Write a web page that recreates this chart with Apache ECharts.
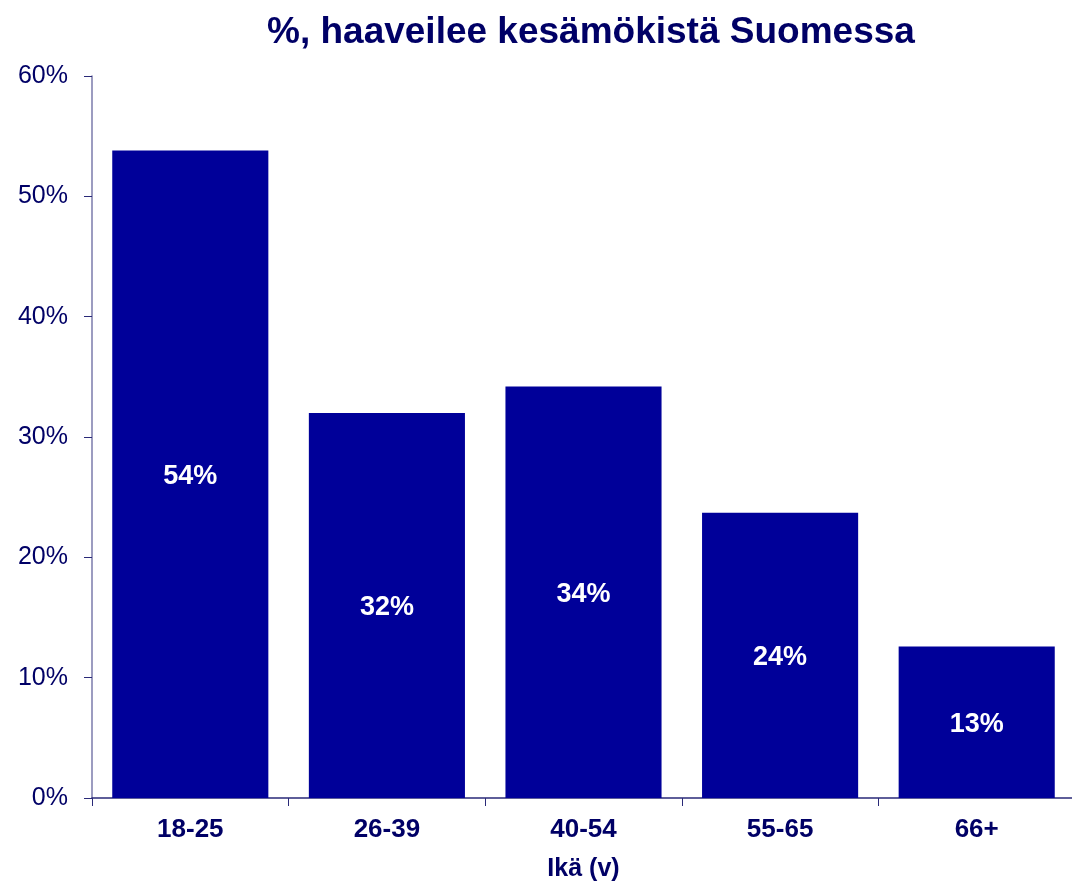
<!DOCTYPE html>
<html>
<head>
<meta charset="utf-8">
<script src="https://cdn.jsdelivr.net/npm/echarts@6/dist/echarts.min.js"></script>
<style>
  html, body { margin: 0; padding: 0; background: #fff; }
  #chart { width: 1072px; height: 881px; }
</style>
</head>
<body>
<div id="chart"></div>
<script>
// ikäryhmät ja osuudet (%)
var ageGroups = ['18-25', '26-39', '40-54', '55-65', '66+'];
var shares = [53.8, 32.0, 34.2, 23.7, 12.6];
var shareLabels = ['54%', '32%', '34%', '24%', '13%'];
var yTicks = [0, 10, 20, 30, 40, 50, 60];

var navy = '#000066';
var font = 'Liberation Sans, Arial, sans-serif';

var myChart = echarts.init(document.getElementById('chart'));
var option = {
  animation: false,
  title: {
    text: '%, haaveilee kesämökistä Suomessa',
    left: 262,
    top: 9,
    textStyle: {
      color: navy,
      fontSize: 37,
      fontWeight: 'bold',
      fontFamily: font
    }
  },
  grid: {
    left: 92,
    right: -3,
    top: 76,
    bottom: 83,
    containLabel: false,
    outerBoundsMode: 'none'
  },
  xAxis: {
    type: 'category',
    data: ageGroups,
    name: 'Ikä (v)',
    nameLocation: 'middle',
    nameGap: 59,
    nameTextStyle: {
      color: navy,
      fontSize: 25,
      fontWeight: 'bold',
      fontFamily: font
    },
    axisLine: { lineStyle: { color: '#2a2a78', width: 1.5 } },
    axisTick: { show: true, length: 8, lineStyle: { color: '#2a2a78' } },
    axisLabel: {
      margin: 19,
      color: navy,
      fontSize: 26,
      fontWeight: 'bold',
      fontFamily: font
    }
  },
  yAxis: {
    type: 'value',
    min: yTicks[0],
    max: yTicks[yTicks.length - 1],
    interval: 10,
    splitLine: { show: false },
    axisLine: { show: true, lineStyle: { color: '#7b7bab', width: 1.5 } },
    axisTick: { show: true, length: 8, lineStyle: { color: '#2a2a78' } },
    axisLabel: {
      margin: 24,
      color: navy,
      fontSize: 25,
      fontFamily: font,
      formatter: '{value}%'
    }
  },
  series: [
    {
      type: 'bar',
      data: shares,
      barCategoryGap: '20.6%',
      itemStyle: { color: '#000099' },
      label: {
        show: true,
        position: 'inside',
        offset: [0, 2],
        color: '#ffffff',
        fontSize: 27,
        fontWeight: 'bold',
        fontFamily: font,
        formatter: function (p) { return shareLabels[p.dataIndex]; }
      }
    }
  ]
};
myChart.setOption(option);
</script>
</body>
</html>
